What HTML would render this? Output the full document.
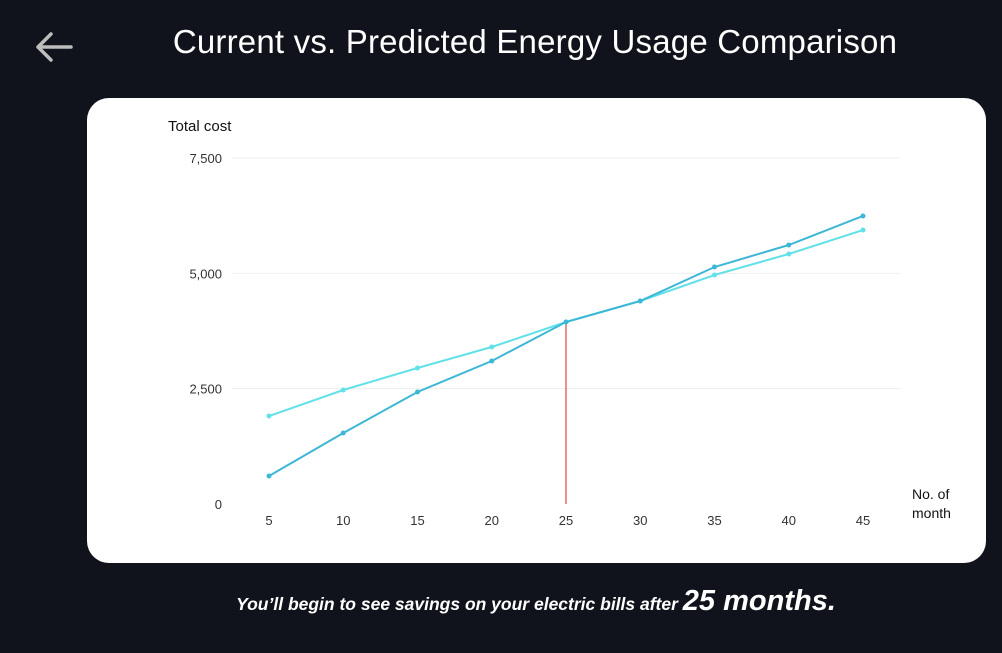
<!DOCTYPE html>
<html><head><meta charset="utf-8"><style>
body{margin:0;width:1002px;height:653px;background:#10131b;font-family:"Liberation Sans",sans-serif;overflow:hidden;position:relative}
.title{position:absolute;left:0;width:1070px;top:23px;text-align:center;color:#fff;font-size:33px;letter-spacing:0.2px}
.card{position:absolute;left:87px;top:98px;width:899px;height:465px;background:#fff;border-radius:22px}
.foot{position:absolute;left:0;width:1072px;top:585px;text-align:center;color:#fff;font-style:italic;font-weight:bold;font-size:17.5px}
.foot b{font-size:29px}
</style></head><body>
<svg style="position:absolute;left:34px;top:30px" width="40" height="34"><path d="M37 17H4M17 4L4 17L17 30" stroke="#bdbdbd" stroke-width="3.5" fill="none" stroke-linecap="round" stroke-linejoin="round"/></svg>
<div class="title">Current vs. Predicted Energy Usage Comparison</div>
<div class="card"></div>
<svg id="chart" style="position:absolute;left:0;top:0" width="1002" height="653"></svg>
<div class="foot">You’ll begin to see savings on your electric bills after <b>25 months.</b></div>
<script>
const months=[5,10,15,20,25,30,35,40,45];
const currentCost=[607,1539,2428,3100,3945,4400,5137,5614,6243];
const predictedCost=[1907,2471,2948,3403,3945,4400,4964,5419,5939];
const yTicks=[0,2500,5000,7500];
const yTickLabels=["0","2,500","5,000","7,500"];
const breakEven=25;
const svg=document.getElementById('chart');const NS='http://www.w3.org/2000/svg';
const X=v=>269+(v-5)*(863-269)/40;
const Y=v=>504-v*346/7500;
function mk(t,a,txt){const e=document.createElementNS(NS,t);for(const k in a)e.setAttribute(k,a[k]);if(txt!==undefined)e.textContent=txt;svg.appendChild(e);return e;}
let e;
yTicks.forEach((t,i)=>{
 if(t>0){e=mk('line',{x1:232,x2:900,y1:Y(t),y2:Y(t),stroke:'#eeeeee','stroke-width':1});
 }
 e=mk('text',{x:222,y:Y(t)+5,'text-anchor':'end','font-size':13,fill:'#333'},yTickLabels[i]);
 
});
months.forEach(m=>{e=mk('text',{x:X(m),y:525,'text-anchor':'middle','font-size':13,fill:'#333'},String(m));
 });
e=mk('text',{x:168,y:131,'font-size':15,fill:'#111'},'Total cost');

e=mk('text',{x:912,y:499,'font-size':14,fill:'#111'},'No. of');

e=mk('text',{x:912,y:518,'font-size':14,fill:'#111'},'month');

e=mk('line',{x1:X(breakEven),x2:X(breakEven),y1:Y(predictedCost[months.indexOf(breakEven)]),y2:504,stroke:'#e0454f','stroke-width':1.2});

function series(vals,col,name){
 e=mk('polyline',{points:vals.map((v,i)=>X(months[i])+','+Y(v)).join(' '),fill:'none',stroke:col,'stroke-width':2});
 
 vals.forEach((v,i)=>{e=mk('circle',{cx:X(months[i]),cy:Y(v),r:2.5,fill:col});
 });
}
series(predictedCost,'#62e1e8','predicted');
series(currentCost,'#3db7d6','current');
</script>
</body></html>
